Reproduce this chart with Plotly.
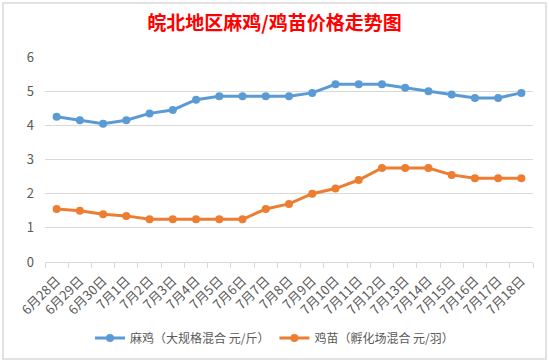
import plotly.graph_objects as go

dates = ["6月28日", "6月29日", "6月30日", "7月1日", "7月2日", "7月3日", "7月4日",
         "7月5日", "7月6日", "7月7日", "7月8日", "7月9日", "7月10日", "7月11日",
         "7月12日", "7月13日", "7月14日", "7月15日", "7月16日", "7月17日", "7月18日"]
maji = [4.25, 4.15, 4.05, 4.15, 4.35, 4.45, 4.75, 4.85, 4.85, 4.85, 4.85,
        4.95, 5.2, 5.2, 5.2, 5.1, 5.0, 4.9, 4.8, 4.8, 4.95]
jimiao = [1.55, 1.5, 1.4, 1.35, 1.25, 1.25, 1.25, 1.25, 1.25, 1.55, 1.7,
          2.0, 2.15, 2.4, 2.75, 2.75, 2.75, 2.55, 2.45, 2.45, 2.45]
name_maji = "麻鸡（大规格混合 元/斤）"
name_jimiao = "鸡苗（孵化场混合 元/羽）"
title = "皖北地区麻鸡/鸡苗价格走势图"

font = "Noto Sans CJK SC"
fig = go.Figure()
fig.add_trace(go.Scatter(x=dates, y=maji, name=name_maji, mode="lines+markers",
                         line=dict(color="#5B9BD5", width=3),
                         marker=dict(color="#5B9BD5", size=8)))
fig.add_trace(go.Scatter(x=dates, y=jimiao, name=name_jimiao, mode="lines+markers",
                         line=dict(color="#ED7D31", width=3),
                         marker=dict(color="#ED7D31", size=8)))

fig.update_layout(
    width=549, height=362,
    margin=dict(l=45, r=16, t=57, b=100, autoexpand=False),
    paper_bgcolor="white", plot_bgcolor="white",
    font=dict(family=font, size=12, color="#595959"),
    title=dict(text=title, x=0.5, xanchor="center", y=1 - 23 / 362, yanchor="middle",
               xref="container",
               font=dict(family=font, size=19, color="#FF0000", weight="bold")),
    showlegend=True,
    legend=dict(orientation="h", xref="container", x=0.5, xanchor="center",
                y=-(338 - 262) / 205, yanchor="middle",
                font=dict(size=12, color="#595959"), bgcolor="rgba(0,0,0,0)",
                itemwidth=30, tracegroupgap=0),
    xaxis=dict(type="category", tickangle=-45, showgrid=False, automargin=False,
               range=[-0.5, len(dates) - 0.5], ticklabelstandoff=5,
               showline=True, linecolor="#D9D9D9", linewidth=1,
               ticks="outside", ticklen=5, tickcolor="#D9D9D9", tickson="boundaries",
               tickfont=dict(size=13, color="#595959"), fixedrange=True),
    yaxis=dict(range=[0, 6], dtick=1, showgrid=True, gridcolor="#D9D9D9", gridwidth=1,
               zeroline=False, showline=False, ticks="", ticklabelstandoff=10, automargin=False,
               tickfont=dict(size=13, color="#595959")),
    shapes=[dict(type="rect", xref="paper", yref="paper", x0=-42/488, x1=(546-45)/488,
                 y0=(262-359)/205, y1=(262-3)/205, line=dict(color="#D9D9D9", width=1.5),
                 layer="below")],
)
fig.write_html("out.html", config={"responsive": False, "displayModeBar": False},
               post_script="document.body.style.margin='0';document.body.style.overflow='hidden';")
